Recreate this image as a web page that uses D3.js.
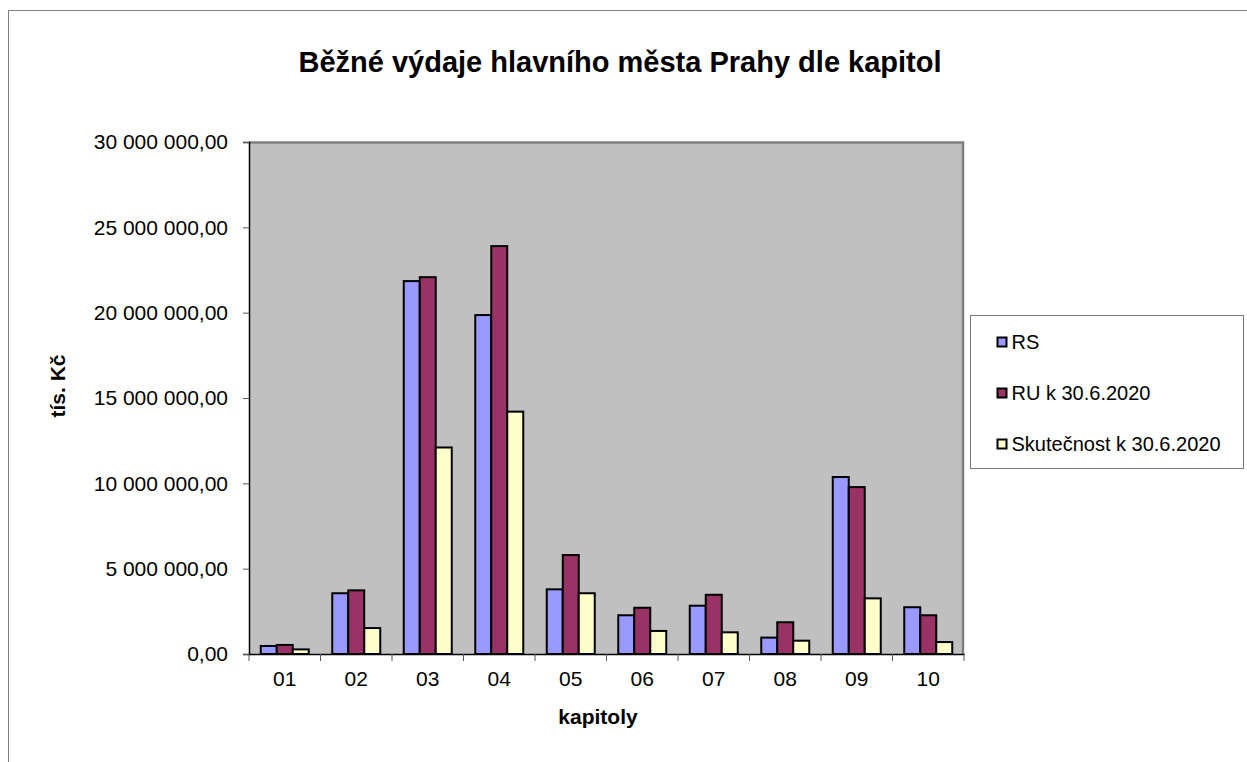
<!DOCTYPE html>
<html>
<head>
<meta charset="utf-8">
<script src="https://cdn.jsdelivr.net/npm/d3@7"></script>
<style>
    body { margin: 0; background: #fff; }
    text { font-family: "Liberation Sans", Arial, sans-serif; fill: #000; }
</style>
</head>
<body>
<div id="chart"></div>
<script>
// chapters and series (tis. Kč)
const kapitoly = ["01", "02", "03", "04", "05", "06", "07", "08", "09", "10"];
const seriesNames = ["RS", "RU k 30.6.2020", "Skutečnost k 30.6.2020"];
const rs = [470000, 3560000, 21850000, 19860000, 3790000, 2270000, 2830000, 960000, 10370000, 2740000];
const ru = [530000, 3730000, 22080000, 23900000, 5800000, 2710000, 3470000, 1860000, 9780000, 2270000];
const skut = [270000, 1520000, 12100000, 14200000, 3560000, 1350000, 1270000, 780000, 3260000, 700000];
const yTicks = [0, 5000000, 10000000, 15000000, 20000000, 25000000, 30000000];
const colors = ["#9999FF", "#993366", "#FFFFCC"];

const width = 1247, height = 762;
var margin = { top: 142, left: 249, right: 283, bottom: 108 };
var plotW = width - margin.left - margin.right,
    plotH = height - margin.top - margin.bottom;

var svg = d3.select("#chart").append("svg")
    .attr("width", width)
    .attr("height", height);

// outer chart frame
svg.append("rect")
    .attr("x", 8.5).attr("y", 10.5)
    .attr("width", width + 20).attr("height", height + 20)
    .attr("fill", "none").attr("stroke", "#808080");

svg.append("text")
    .attr("x", 620).attr("y", 72)
    .attr("text-anchor", "middle")
    .style("font-size", "29px").style("font-weight", "bold")
    .text("Běžné výdaje hlavního města Prahy dle kapitol");

var g = svg.append("g")
    .attr("transform", "translate(" + margin.left + "," + margin.top + ")");

var x = d3.scaleBand().domain(kapitoly).range([0, plotW]).paddingInner(0).paddingOuter(0);
var y = d3.scaleLinear().domain([0, 30000000]).range([plotH, 0]);

g.append("rect")
    .attr("width", plotW).attr("height", plotH)
    .attr("fill", "#C0C0C0");

// top & right border (grey)
g.append("path")
    .attr("d", "M0,0.5H" + (plotW - 1) + "V" + plotH)
    .attr("fill", "none").attr("stroke", "#808080").attr("stroke-width", 2.5);

var fmt = v => d3.format(",.2f")(v).replace(/,/g, " ").replace(".", ",");

var yAxis = g.append("g")
    .call(d3.axisLeft(y).tickValues(yTicks).tickSize(6).tickPadding(15).tickFormat(fmt));
yAxis.select(".domain").attr("stroke", "#000").attr("stroke-width", 1.5);
yAxis.selectAll(".tick line").attr("stroke", "#555");
yAxis.selectAll("text").style("font-size", "21px").attr("dy", "0.33em");

var xAxis = g.append("g")
    .attr("transform", "translate(0," + plotH + ")")
    .call(d3.axisBottom(x).tickSize(0).tickPadding(17));
xAxis.select(".domain").attr("stroke", "#000").attr("stroke-width", 1.5);
xAxis.selectAll("text").style("font-size", "21px");
// category separator ticks
xAxis.selectAll(".sep")
    .data(kapitoly.concat(["end"]))
    .enter().append("line")
    .attr("x1", (d, i) => i * x.bandwidth())
    .attr("x2", (d, i) => i * x.bandwidth())
    .attr("y1", 0).attr("y2", 7)
    .attr("stroke", "#555");

var barW = 16;
var data = [rs, ru, skut];
var groupOff = (x.bandwidth() - barW * 3) / 2;

data.forEach((vals, s) => {
    g.selectAll(".bar" + s)
        .data(vals)
        .enter().append("rect")
        .attr("class", "bar" + s)
        .attr("x", (d, i) => x(kapitoly[i]) + groupOff + s * barW)
        .attr("y", d => y(d))
        .attr("width", barW)
        .attr("height", d => plotH - y(d))
        .attr("fill", colors[s])
        .attr("stroke", "#000")
        .attr("stroke-width", 2);
});

// axis titles
svg.append("text")
    .attr("x", 598).attr("y", 724)
    .attr("text-anchor", "middle")
    .style("font-size", "21px").style("font-weight", "bold")
    .text("kapitoly");

svg.append("text")
    .attr("transform", "translate(65,386) rotate(-90)")
    .attr("text-anchor", "middle")
    .style("font-size", "21px").style("font-weight", "bold")
    .text("tís. Kč");

// legend
var legend = svg.append("g").attr("transform", "translate(970.5,315.5)");
legend.append("rect")
    .attr("width", 273).attr("height", 153)
    .attr("fill", "#fff").attr("stroke", "#777");
seriesNames.forEach((name, i) => {
    var ly = 26 + i * 51;
    legend.append("rect")
        .attr("x", 27).attr("y", ly - 4)
        .attr("width", 9).attr("height", 9)
        .attr("fill", colors[i]).attr("stroke", "#000").attr("stroke-width", 2);
    legend.append("text")
        .attr("x", 41).attr("y", ly + 7)
        .style("font-size", "20px")
        .text(name);
});
</script>
</body>
</html>
